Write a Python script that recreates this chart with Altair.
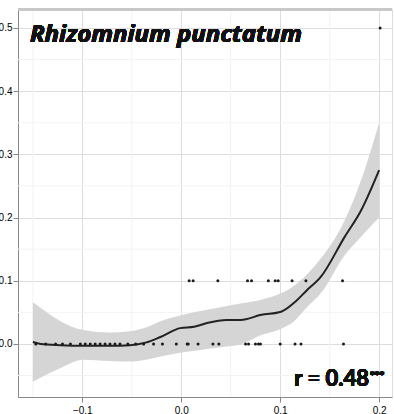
import altair as alt
import pandas as pd

# Observed presence values (y) against predictor (x)
x_at_zero = [-0.147, -0.137, -0.127, -0.120, -0.112, -0.102, -0.097, -0.092,
             -0.087, -0.082, -0.077, -0.072, -0.067, -0.062, -0.054, -0.046,
             -0.038, -0.028, -0.019, -0.005, 0.006, 0.007, 0.017, 0.032,
             0.038, 0.065, 0.068, 0.075, 0.078, 0.080, 0.100, 0.115,
             0.121, 0.164]
x_at_tenth = [0.008, 0.012, 0.037, 0.067, 0.071, 0.088, 0.095, 0.098,
              0.112, 0.126, 0.163]
x_at_half = [0.201]

# Smoothed fit with its confidence band
fit_x = [-0.150, -0.142, -0.122, -0.099, -0.072, -0.052, -0.036, -0.021,
         -0.001, 0.013, 0.026, 0.046, 0.060, 0.081, 0.101, 0.114, 0.127,
         0.141, 0.165, 0.182, 0.200]
fit_y = [0.003, 0.000, -0.002, -0.003, -0.003, -0.002, 0.002, 0.011,
         0.025, 0.027, 0.033, 0.038, 0.038, 0.046, 0.051, 0.065, 0.085,
         0.106, 0.169, 0.212, 0.275]
fit_hi = [0.066, 0.057, 0.036, 0.022, 0.018, 0.020, 0.026, 0.036,
          0.045, 0.050, 0.054, 0.060, 0.064, 0.070, 0.080, 0.092, 0.110,
          0.135, 0.195, 0.260, 0.350]
fit_lo = [-0.060, -0.053, -0.038, -0.025, -0.027, -0.028, -0.025, -0.020,
          -0.014, -0.011, -0.008, -0.004, -0.001, 0.014, 0.024, 0.036, 0.058,
          0.080, 0.140, 0.170, 0.200]

# Axis ticks and minor grid positions
x_ticks = [-0.1, 0.0, 0.1, 0.2]
y_ticks = [0.0, 0.1, 0.2, 0.3, 0.4, 0.5]
x_minor = [-0.15, -0.05, 0.05, 0.15]
y_minor = [-0.05, 0.05, 0.15, 0.25, 0.35, 0.45]

points = pd.DataFrame({
    "x": x_at_zero + x_at_tenth + x_at_half,
    "y": [0.0] * len(x_at_zero) + [0.1] * len(x_at_tenth) + [0.5] * len(x_at_half),
})
fit = pd.DataFrame({"x": fit_x, "y": fit_y, "lo": fit_lo, "hi": fit_hi})
minor_v = pd.DataFrame({"x": x_minor})
minor_h = pd.DataFrame({"y": y_minor})

X_DOMAIN = [-0.165, 0.213]
Y_DOMAIN = [-0.084, 0.53]

xs = alt.Scale(domain=X_DOMAIN, nice=False, zero=False)
ys = alt.Scale(domain=Y_DOMAIN, nice=False, zero=False)

x_axis = alt.Axis(values=x_ticks, format=".1f", title=None, labelPadding=3)
y_axis = alt.Axis(values=y_ticks, format=".1f", title=None, labelPadding=1)

grid_v = alt.Chart(minor_v).mark_rule(color="#f3f3f3", strokeWidth=1).encode(
    x=alt.X("x:Q", scale=xs, axis=x_axis)
)
grid_h = alt.Chart(minor_h).mark_rule(color="#f3f3f3", strokeWidth=1).encode(
    y=alt.Y("y:Q", scale=ys, axis=y_axis)
)

band = alt.Chart(fit).mark_area(color="#d3d3d3", opacity=0.95, interpolate="monotone").encode(
    x=alt.X("x:Q", scale=xs, axis=x_axis),
    y=alt.Y("lo:Q", scale=ys, axis=y_axis),
    y2="hi:Q",
)

dots = alt.Chart(points).mark_circle(color="#1a1a1a", size=9, opacity=1).encode(
    x=alt.X("x:Q", scale=xs, axis=x_axis),
    y=alt.Y("y:Q", scale=ys, axis=y_axis),
)

line = alt.Chart(fit).mark_line(color="#222222", strokeWidth=2, interpolate="monotone").encode(
    x=alt.X("x:Q", scale=xs, axis=x_axis),
    y=alt.Y("y:Q", scale=ys, axis=y_axis),
)

top_border = alt.Chart(fit).mark_rule(color="#c8c8c8", strokeWidth=1.5).encode(
    x=alt.value(0), x2=alt.value(374), y=alt.value(0.5)
)

species = alt.Chart(fit).mark_text(
    text="Rhizomnium  punctatum", font="Open Sans", fontSize=24,
    fontWeight="bold", fontStyle="italic", align="left", baseline="alphabetic",
    color="#111111",
).encode(x=alt.value(12), y=alt.value(33))

r_text = alt.Chart(fit).mark_text(
    text="r = 0.48", font="Lato", fontSize=22, fontWeight="bold",
    align="right", baseline="alphabetic", color="#111111",
).encode(x=alt.value(351), y=alt.value(377))

stars = alt.Chart(fit).mark_text(
    text="***", font="DejaVu Sans", fontSize=9, fontWeight="bold",
    align="left", baseline="top", color="#111111",
).encode(x=alt.value(352), y=alt.value(362))

chart = alt.layer(
    grid_v, grid_h, band, line, dots, top_border, species, r_text, stars
).properties(
    width=374, height=388,
    autosize=alt.AutoSizeParams(type="none"),
    padding={"left": 18, "top": 9, "right": 2, "bottom": 17},
).configure_view(
    stroke=None
).configure_axis(
    domainColor="#9a9a9a", domainWidth=1.5, tickColor="#9a9a9a", tickSize=2,
    labelFontSize=5.5, labelColor="#808080", labelFont="Liberation Sans",
    gridColor="#e6e6e6", gridWidth=1,
).configure(background="white")

chart.save("out.html", embed_options={"renderer": "svg", "actions": False})
